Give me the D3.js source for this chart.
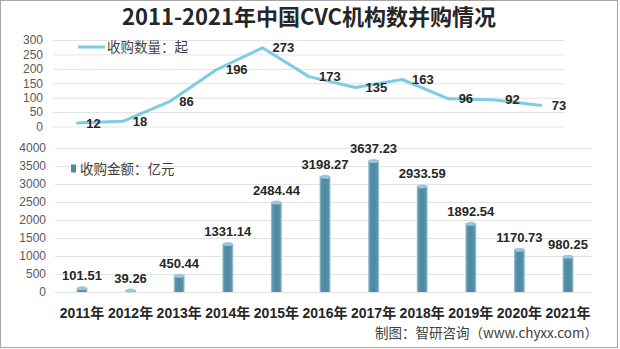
<!DOCTYPE html>
<html><head><meta charset="utf-8">
<script src="https://cdn.jsdelivr.net/npm/d3@7"></script>
<style>body{margin:0;background:#fff}svg{display:block}</style>
</head><body>
<svg id="c" width="620" height="349"></svg>
<script>
const years = ["2011年","2012年","2013年","2014年","2015年","2016年","2017年","2018年","2019年","2020年","2021年"];
const dealCounts = [12,18,86,196,273,173,135,163,96,92,73];
const dealAmounts = [101.51,39.26,450.44,1331.14,2484.44,3198.27,3637.23,2933.59,1892.54,1170.73,980.25];
const countTicks = [0,50,100,150,200,250,300];
const amountTicks = [0,500,1000,1500,2000,2500,3000,3500,4000];
const titleText = "2011-2021年中国CVC机构数并购情况";
const countLegend = "收购数量：起";
const amountLegend = "收购金额：亿元";
const sourceText = "制图：智研咨询（www.chyxx.com）";

const svg = d3.select("#c");
const font = "'Noto Sans CJK SC','Noto Sans',sans-serif";
const numFont = "'Liberation Sans','Noto Sans CJK SC',sans-serif";

svg.append("rect").attr("x",0.5).attr("y",0.5).attr("width",617).attr("height",347)
  .attr("fill","#fff").attr("stroke","#a6a6a6");

svg.append("text").attr("x",309).attr("y",25).attr("text-anchor","middle")
  .attr("font-family",font).attr("font-weight","bold").attr("font-size",22)
  .attr("fill","#262626").text(titleText);

// ---- top line chart
const x1 = d3.scaleBand().domain(years).range([53,565]);
const y1 = d3.scaleLinear().domain([0,300]).range([126.5,40]);
const gTop = svg.append("g");
const ax1 = gTop.append("g").attr("transform","translate(53,0)")
  .call(d3.axisLeft(y1).tickValues(countTicks).tickFormat(d3.format("d")).tickSize(-512).tickPadding(10));
ax1.select(".domain").remove();
ax1.selectAll("line").attr("stroke","#e3e3e3");
ax1.selectAll("text").attr("font-family",numFont).attr("font-size",12).attr("fill","#595959");

const line = d3.line().x((d,i)=>x1(years[i])+x1.bandwidth()/2).y(d=>y1(d));
gTop.append("path").datum(dealCounts).attr("d",line).attr("fill","none")
  .attr("stroke","#7ecbe4").attr("stroke-width",3).attr("stroke-linejoin","round");
gTop.selectAll(".lbl").data(dealCounts).join("text")
  .attr("x",(d,i)=>x1(years[i])+x1.bandwidth()/2+10).attr("y",d=>y1(d)+4.5)
  .attr("font-family",numFont).attr("font-weight","bold").attr("font-size",13)
  .attr("fill","#262626").text(d=>d);
gTop.append("line").attr("x1",78).attr("x2",105).attr("y1",47).attr("y2",47)
  .attr("stroke","#7ecbe4").attr("stroke-width",3);
gTop.append("text").attr("x",107).attr("y",52).attr("font-family",font).attr("font-size",13.5)
  .attr("fill","#404040").text(countLegend);

// ---- bottom bar chart
const x2 = d3.scaleBand().domain(years).range([57.7,592.3]);
const y2 = d3.scaleLinear().domain([0,4000]).range([292,148]);
const gBot = svg.append("g");
const ax2 = gBot.append("g").attr("transform","translate(55,0)")
  .call(d3.axisLeft(y2).tickValues(amountTicks).tickFormat(d3.format("d")).tickSize(-537).tickPadding(9));
ax2.select(".domain").remove();
ax2.selectAll("line").attr("stroke","#e3e3e3");
ax2.selectAll("text").attr("font-family",numFont).attr("font-size",12).attr("fill","#595959");

const defs = svg.append("defs");
const grad = defs.append("linearGradient").attr("id","cyl").attr("x1",0).attr("x2",1);
[[0,"#a9cfdc"],[0.18,"#5592aa"],[0.5,"#4e89a2"],[0.82,"#5592aa"],[1,"#a9cfdc"]]
  .forEach(s=>grad.append("stop").attr("offset",s[0]).attr("stop-color",s[1]));

const bw = 11;
const bars = gBot.selectAll(".bar").data(dealAmounts).join("g");
bars.append("rect")
  .attr("x",(d,i)=>x2(years[i])+x2.bandwidth()/2-bw/2).attr("width",bw)
  .attr("y",d=>y2(d)).attr("height",d=>y2(0)-y2(d)).attr("fill","url(#cyl)");
bars.append("ellipse")
  .attr("cx",(d,i)=>x2(years[i])+x2.bandwidth()/2).attr("cy",d=>y2(d))
  .attr("rx",bw/2).attr("ry",2).attr("fill","#9cc6d6");
bars.append("text")
  .attr("x",(d,i)=>x2(years[i])+x2.bandwidth()/2).attr("y",d=>y2(d)-8)
  .attr("text-anchor","middle").attr("font-family",numFont).attr("font-weight","bold")
  .attr("font-size",13).attr("fill","#262626").text(d=>d.toFixed(2));

gBot.selectAll(".xl").data(years).join("text")
  .attr("x",d=>x2(d)+x2.bandwidth()/2).attr("y",318).attr("text-anchor","middle")
  .attr("font-family",numFont).attr("font-weight","bold").attr("font-size",14)
  .attr("fill","#262626").text(d=>d);

gBot.append("rect").attr("x",71).attr("y",164.5).attr("width",5).attr("height",8).attr("fill","#4e89a2");
gBot.append("text").attr("x",80).attr("y",173.5).attr("font-family",font).attr("font-size",13.5)
  .attr("fill","#404040").text(amountLegend);

svg.append("text").attr("x",598).attr("y",338).attr("text-anchor","end")
  .attr("font-family",font).attr("font-size",13.5).attr("fill","#404040").text(sourceText);
</script>
</body></html>
